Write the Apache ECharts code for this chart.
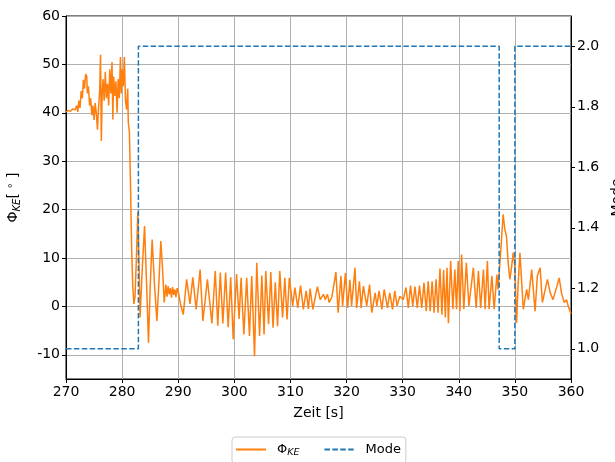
<!DOCTYPE html>
<html>
<head>
<meta charset="utf-8">
<script src="https://cdn.jsdelivr.net/npm/echarts@6/dist/echarts.min.js"></script>
<style>
  html, body { margin: 0; padding: 0; background: #fff; }
  #chart { width: 615px; height: 462px; }
</style>
</head>
<body>
<div id="chart"></div>
<script>
// Zeit [s] und Phi_KE [deg]
const phiTime = [
  270.0, 270.4, 270.8, 271.2, 271.6, 271.9, 272.1, 272.3, 272.5, 272.7, 272.9, 273.1, 273.3, 273.5, 273.7, 273.8,
  274.0, 274.2, 274.4, 274.6, 274.8, 275.0, 275.2, 275.4, 275.6, 275.8, 276.0, 276.15, 276.3, 276.45, 276.6, 276.8,
  277.0, 277.2, 277.4, 277.6, 277.8, 278.0, 278.2, 278.35, 278.5, 278.7, 278.9, 279.1, 279.3, 279.5, 279.7, 279.85,
  280.0, 280.2, 280.4, 280.6, 280.8, 281.0, 281.1, 281.3, 281.5, 281.7, 281.9, 282.1, 282.3, 282.55, 282.8, 283.0,
  283.2, 283.6, 284.0, 284.35, 284.7, 285.0, 285.35, 285.8, 286.2, 286.6, 286.9, 287.2, 287.5, 287.8, 288.0, 288.2,
  288.4, 288.6, 288.8, 289.0, 289.2, 289.4, 289.6, 289.8, 290.1, 290.4, 290.9, 291.5, 292.1, 292.6, 293.2, 293.9,
  294.4, 295.2, 296.0, 296.6, 297.05, 297.5, 297.95, 298.45, 298.9, 299.35, 299.8, 300.4, 300.85, 301.2, 301.7, 302.2,
  302.7, 303.1, 303.6, 304.0, 304.5, 304.9, 305.3, 305.6, 306.1, 306.5, 306.9, 307.3, 307.7, 308.1, 308.6, 309.0,
  309.4, 309.8, 310.4, 310.8, 311.3, 311.8, 312.3, 312.8, 313.2, 313.5, 314.0, 314.8, 315.3, 315.9, 316.2, 316.6,
  316.9, 317.4, 318.1, 318.5, 319.0, 319.3, 319.8, 320.2, 320.6, 320.9, 321.5, 321.8, 322.3, 322.6, 323.0, 323.6,
  324.1, 324.5, 325.1, 325.4, 325.8, 326.3, 326.7, 327.3, 327.7, 328.2, 328.6, 329.0, 329.5, 330.1, 330.6, 331.0,
  331.4, 331.8, 332.2, 332.6, 333.0, 333.4, 333.8, 334.2, 334.55, 334.9, 335.25, 335.6, 335.95, 336.3, 336.65, 337.0,
  337.3, 337.6, 337.9, 338.15, 338.55, 338.95, 339.3, 339.6, 339.9, 340.2, 340.5, 340.9, 341.35, 341.8, 342.6, 343.1,
  343.5, 343.9, 344.4, 344.7, 345.1, 345.4, 345.9, 346.3, 346.8, 347.0, 347.5, 347.9, 348.2, 348.5, 348.8, 349.1,
  349.4, 349.7, 350.0, 350.3, 350.6, 350.9, 351.5, 352.1, 352.4, 353.0, 353.6, 354.0, 354.5, 354.9, 355.4, 355.8,
  356.3, 356.8, 357.5, 357.9, 358.3, 358.8, 359.2, 359.5, 360.0
];
const phiValue = [
  40.2, 40.5, 40.3, 40.8, 40.6, 41.5, 40.2, 42.5, 41.0, 44.5, 43.0, 46.8, 45.0, 48.0, 47.5, 44.0,
  45.5, 41.5, 43.0, 39.5, 41.5, 38.5, 42.0, 40.0, 36.5, 41.0, 44.5, 52.0, 34.2, 44.0, 47.0, 42.5,
  48.5, 43.0, 46.0, 41.5, 49.0, 44.0, 50.5, 38.6, 47.5, 43.5, 46.5, 40.0, 47.0, 43.0, 51.5, 44.0,
  49.0, 45.5, 51.5, 42.5, 40.7, 45.0, 38.0, 36.0, 25.0, 12.0, 4.0, 0.5, 2.0, 10.0, 19.5, 10.0,
  -2.3, 8.0, 16.6, 5.0, -7.5, 4.0, 13.8, 4.0, -3.0, 6.0, 13.5, 8.0, 0.8, 4.5, 2.0, 4.2,
  2.5, 3.8, 1.8, 4.0, 2.4, 3.5, 1.9, 3.8, 2.5, 0.5, -1.7, 5.6, 0.5, 6.0, -0.6, 7.6,
  -3.0, 5.6, -3.5, 7.3, -4.0, 7.0, -3.5, 7.0, -4.3, 6.0, -6.8, 6.7, -2.6, 5.9, -5.8, 5.9,
  -6.1, 6.3, -10.3, 9.0, -6.1, 6.4, -5.8, 7.3, -3.7, 7.1, -4.4, 5.0, -4.1, 7.3, -2.3, 5.9,
  -2.7, 5.9, 0.1, 3.9, -0.3, 4.3, -0.6, 3.2, -0.5, 3.7, -0.6, 4.1, 1.4, 2.5, 1.4, 2.5,
  0.8, 2.0, 7.1, -1.3, 6.3, 0.1, 6.9, -0.3, 5.5, 0.1, 8.0, -0.3, 5.2, -0.3, 4.2, 0.1,
  4.5, -1.3, 2.8, 0.1, 3.2, -0.6, 3.5, -0.3, 2.8, -0.6, 3.2, 0.1, 2.1, 1.4, 3.9, -0.3,
  4.3, 0.1, 4.1, -0.3, 4.3, -0.3, 4.9, -1.0, 5.2, -1.0, 5.2, -1.3, 5.6, -1.3, 7.8, -1.7,
  7.5, -2.3, 8.0, -3.5, 9.4, -0.6, 7.6, -0.6, 9.4, -1.0, 10.7, -0.6, 9.0, 0.1, 8.0, -0.3,
  7.3, -0.3, 7.6, -0.6, 9.4, -0.6, 6.3, -0.6, 6.6, 3.5, 11.8, 19.0, 16.0, 14.5, 9.0, 5.6,
  8.0, 11.1, 8.3, -3.4, 5.0, 11.1, -0.6, 3.5, 1.4, 7.6, -1.0, 6.3, 8.0, 0.8, 3.5, 5.6,
  2.8, 1.4, 4.2, 5.9, 2.8, 0.8, 1.4, 0.1, -1.5
];

// Modus-Wechsel (Wert gilt bis zum naechsten Zeitpunkt)
const modeTime = [270, 282.9, 347.2, 350.0, 360];
const modeValue = [1, 2, 1, 2, 2];

const xTicks = [270, 280, 290, 300, 310, 320, 330, 340, 350, 360];
const leftTicks = [-10, 0, 10, 20, 30, 40, 50, 60];
const rightTicks = [1.0, 1.2, 1.4, 1.6, 1.8, 2.0];

const font = 'DejaVu Sans';
const rich = {
  a: { fontFamily: font, fontSize: 14, color: '#000' },
  s: { fontFamily: font, fontSize: 10, fontStyle: 'italic', color: '#000', padding: [7, 0, 0, 0] },
  d: { fontFamily: font, fontSize: 10, color: '#000', padding: [0, 0, 7, 0] }
};
const legendRich = {
  a: { fontFamily: font, fontSize: 13, color: '#000' },
  s: { fontFamily: font, fontSize: 9.5, fontStyle: 'italic', color: '#000', padding: [6, 0, 0, 0] }
};

const chart = echarts.init(document.getElementById('chart'));
chart.setOption({
  animation: false,
  grid: {
    left: 66, right: 44, top: 16, bottom: 83,
    outerBoundsMode: 'none', containLabel: false,
    show: true, borderColor: '#000', borderWidth: 1
  },
  legend: {
    left: 232, top: 437,
    itemWidth: 30, itemHeight: 12, itemGap: 24,
    padding: [6, 5, 6, 3],
    borderColor: '#cccccc', borderWidth: 1, borderRadius: 3,
    itemStyle: { opacity: 0 },
    textStyle: { fontFamily: font, fontSize: 13, color: '#000', padding: [0, 0, 0, 6], rich: legendRich },
    formatter: name => name === 'phi' ? '{a|Φ}{s|KE}' : name,
    data: ['phi', 'Mode']
  },
  xAxis: {
    type: 'value', min: 270, max: 360, interval: 10,
    name: 'Zeit [s]', nameLocation: 'middle', nameGap: 27,
    nameTextStyle: { fontFamily: font, fontSize: 14, color: '#000' },
    axisLine: { onZero: false, lineStyle: { color: '#000' } },
    axisTick: { show: true, length: 4, lineStyle: { color: '#000' } },
    axisLabel: { fontFamily: font, fontSize: 14, color: '#000', margin: 6, customValues: xTicks },
    splitLine: { show: true, lineStyle: { color: '#b0b0b0', width: 1 } }
  },
  yAxis: [
    {
      type: 'value', min: -15, max: 60, position: 'left',
      name: '{a|Φ}{s|KE}{a|[ }{d|∘}{a| ]}', nameLocation: 'middle', nameGap: 44, nameRotate: 90,
      nameTextStyle: { rich: rich },
      axisLine: { show: true, onZero: false, lineStyle: { color: '#000' } },
      axisTick: { show: true, length: 4, lineStyle: { color: '#000' }, customValues: leftTicks },
      axisLabel: { fontFamily: font, fontSize: 14, color: '#000', margin: 6, customValues: leftTicks },
      splitLine: { show: true, lineStyle: { color: '#b0b0b0', width: 1 } }
    },
    {
      type: 'value', min: 0.9, max: 2.1, position: 'right',
      name: 'Mode', nameLocation: 'middle', nameGap: 36, nameRotate: 90,
      nameTextStyle: { fontFamily: font, fontSize: 14, color: '#000' },
      axisLine: { show: true, onZero: false, lineStyle: { color: '#000' } },
      axisTick: { show: true, length: 4, lineStyle: { color: '#000' }, customValues: rightTicks },
      axisLabel: {
        fontFamily: font, fontSize: 14, color: '#000', margin: 6, customValues: rightTicks,
        formatter: v => v.toFixed(1)
      },
      splitLine: { show: false }
    }
  ],
  series: [
    {
      name: 'phi', type: 'line', yAxisIndex: 0,
      data: phiTime.map((t, i) => [t, phiValue[i]]),
      symbol: 'none', clip: true,
      lineStyle: { color: '#ff7f0e', width: 1.5 },
      itemStyle: { color: '#ff7f0e' }
    },
    {
      name: 'Mode', type: 'line', yAxisIndex: 1, step: 'end',
      data: modeTime.map((t, i) => [t, modeValue[i]]),
      symbol: 'none',
      lineStyle: { color: '#1f77b4', width: 1.5, type: [5.5, 2.4] },
      itemStyle: { color: '#1f77b4' }
    }
  ]
});
</script>
</body>
</html>
